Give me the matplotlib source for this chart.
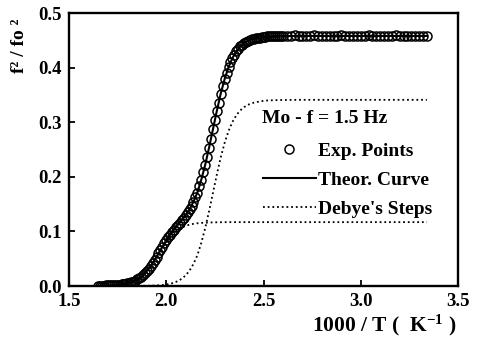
import matplotlib
matplotlib.use("Agg")
import matplotlib.pyplot as plt

plt.rcParams['font.family'] = ['Liberation Serif', 'DejaVu Serif']
plt.rcParams['font.weight'] = 'bold'
plt.rcParams['mathtext.fontset'] = 'custom'
plt.rcParams['mathtext.rm'] = 'Liberation Serif:bold'
plt.rcParams['mathtext.bf'] = 'Liberation Serif:bold'
plt.rcParams['mathtext.default'] = 'bf'

exp_x = [1.65, 1.66, 1.67, 1.68, 1.69, 1.70, 1.71, 1.72, 1.73, 1.74,
         1.75, 1.76, 1.77, 1.78, 1.79, 1.80, 1.81, 1.82, 1.83, 1.84,
         1.85, 1.86, 1.87, 1.88, 1.89, 1.90, 1.91, 1.92, 1.93, 1.94,
         1.95, 1.96, 1.97, 1.98, 1.99, 2.00, 2.01, 2.02, 2.03, 2.04,
         2.05, 2.06, 2.07, 2.08, 2.09, 2.10, 2.11, 2.12, 2.13, 2.14,
         2.15, 2.16, 2.17, 2.18, 2.19, 2.20, 2.21, 2.22, 2.23, 2.24,
         2.25, 2.26, 2.27, 2.28, 2.29, 2.30, 2.31, 2.32, 2.33, 2.34,
         2.35, 2.36, 2.37, 2.38, 2.39, 2.40, 2.41, 2.42, 2.43, 2.44,
         2.45, 2.46, 2.47, 2.48, 2.49, 2.50, 2.51, 2.52, 2.53, 2.54,
         2.55, 2.56, 2.57, 2.58, 2.59, 2.60,
         2.62, 2.64, 2.66, 2.68, 2.70, 2.72, 2.74, 2.76, 2.78, 2.80,
         2.82, 2.84, 2.86, 2.88, 2.90, 2.92, 2.94, 2.96, 2.98, 3.00,
         3.02, 3.04, 3.06, 3.08, 3.10, 3.12, 3.14, 3.16, 3.18, 3.20,
         3.22, 3.24, 3.26, 3.28, 3.30, 3.32, 3.34]
exp_y = [0.000, 0.000, 0.000, 0.000, 0.001, 0.001, 0.001, 0.001, 0.001, 0.001,
         0.002, 0.002, 0.003, 0.003, 0.004, 0.005, 0.006, 0.007, 0.008, 0.010,
         0.012, 0.014, 0.017, 0.020, 0.023, 0.028, 0.032, 0.037, 0.042, 0.048,
         0.054, 0.060, 0.066, 0.072, 0.078, 0.084, 0.089, 0.094, 0.099, 0.103,
         0.108, 0.112, 0.116, 0.121, 0.125, 0.130, 0.135, 0.141, 0.147, 0.154,
         0.163, 0.171, 0.183, 0.195, 0.208, 0.222, 0.237, 0.253, 0.270, 0.287,
         0.304, 0.321, 0.336, 0.352, 0.366, 0.379, 0.390, 0.401, 0.410, 0.417,
         0.424, 0.430, 0.434, 0.439, 0.442, 0.445, 0.447, 0.449, 0.451, 0.452,
         0.453, 0.454, 0.454, 0.455, 0.456, 0.456, 0.456, 0.457, 0.457, 0.457,
         0.457, 0.457, 0.457, 0.457, 0.457, 0.457,
         0.458, 0.458, 0.459, 0.458, 0.458, 0.457, 0.458, 0.459, 0.458, 0.458,
         0.458, 0.457, 0.458, 0.458, 0.459, 0.458, 0.458, 0.457, 0.458, 0.458,
         0.458, 0.459, 0.458, 0.458, 0.457, 0.458, 0.458, 0.458, 0.459, 0.458,
         0.458, 0.458, 0.457, 0.458, 0.458, 0.458, 0.458]

# theoretical curve and the two Debye steps
curve_x = [1.64, 1.66, 1.68, 1.70, 1.72, 1.74, 1.76, 1.78, 1.80, 1.82,
           1.84, 1.86, 1.88, 1.90, 1.92, 1.94, 1.96, 1.98, 2.00, 2.02,
           2.04, 2.06, 2.08, 2.10, 2.12, 2.14, 2.16, 2.18, 2.20, 2.22,
           2.24, 2.26, 2.28, 2.30, 2.32, 2.34, 2.36, 2.38, 2.40, 2.42,
           2.44, 2.46, 2.48, 2.50, 2.52, 2.54, 2.56, 2.58, 2.60,
           2.70, 2.80, 2.90, 3.00, 3.10, 3.20, 3.34]
theor_y = [0.0002, 0.0003, 0.0004, 0.0006, 0.0010, 0.0014, 0.0021, 0.0032, 0.0047, 0.0068,
           0.0099, 0.0141, 0.0200, 0.0275, 0.0368, 0.0478, 0.0598, 0.0720, 0.0835, 0.0940,
           0.1034, 0.1122, 0.1207, 0.1299, 0.1408, 0.1544, 0.1713, 0.1946, 0.2218, 0.2533,
           0.2870, 0.3209, 0.3523, 0.3790, 0.4007, 0.4174, 0.4297, 0.4385, 0.4446, 0.4489,
           0.4519, 0.4537, 0.4549, 0.4562, 0.4568, 0.4571, 0.4574, 0.4576, 0.4577,
           0.458, 0.458, 0.458, 0.458, 0.458, 0.458, 0.458]
step1_y = [0.0002, 0.0003, 0.0004, 0.0006, 0.0010, 0.0014, 0.0021, 0.0031, 0.0046, 0.0067,
           0.0098, 0.0139, 0.0197, 0.0271, 0.0362, 0.0470, 0.0585, 0.0701, 0.0807, 0.0899,
           0.0973, 0.1031, 0.1073, 0.1103, 0.1124, 0.1139, 0.1149, 0.1156, 0.1160, 0.1163,
           0.1165, 0.1167, 0.1168, 0.1169, 0.117, 0.117, 0.117, 0.117, 0.117, 0.117,
           0.117, 0.117, 0.117, 0.117, 0.117, 0.117, 0.117, 0.117, 0.117,
           0.117, 0.117, 0.117, 0.117, 0.117, 0.117, 0.117]
step2_y = [0.0, 0.0, 0.0, 0.0, 0.0, 0.0, 0.0, 0.0, 0.0, 0.0,
           0.0001, 0.0002, 0.0003, 0.0004, 0.0006, 0.0008, 0.0013, 0.0019, 0.0028, 0.0041,
           0.0061, 0.0091, 0.0134, 0.0196, 0.0284, 0.0405, 0.0564, 0.0790, 0.1058, 0.1370,
           0.1705, 0.2042, 0.2355, 0.2621, 0.2837, 0.3004, 0.3127, 0.3215, 0.3276, 0.3319,
           0.3349, 0.3367, 0.3379, 0.3392, 0.3398, 0.3401, 0.3404, 0.3406, 0.3407,
           0.341, 0.341, 0.341, 0.341, 0.341, 0.341, 0.341]

fig = plt.figure(figsize=(4.81, 3.39), dpi=100)
ax = fig.add_axes([0.1435, 0.1563, 0.8087, 0.8053])

dots = (0, (1, 1.6))
ax.plot(curve_x, theor_y, color='black', lw=1.5, label='Theor. Curve', zorder=2)
ax.plot(exp_x, exp_y, 'o', ms=6.5, mfc='none', mec='black', mew=1.1,
        label='Exp. Points', zorder=3)
ax.plot(curve_x, step1_y, color='black', lw=1.3, ls=dots, label="Debye's Steps", zorder=1)
ax.plot(curve_x, step2_y, color='black', lw=1.3, ls=dots, zorder=1)

ax.set_xlim(1.5, 3.5)
ax.set_ylim(0.0, 0.5)
ax.set_xticks([1.5, 2.0, 2.5, 3.0, 3.5])
ax.set_yticks([0.0, 0.1, 0.2, 0.3, 0.4, 0.5])
ax.set_xticklabels(['1.5', '2.0', '2.5', '3.0', '3.5'])
ax.set_yticklabels(['0.0', '0.1', '0.2', '0.3', '0.4', '0.5'])
ax.tick_params(direction='in', length=4, width=1.3, labelsize=13.5, pad=5)
for s in ax.spines.values():
    s.set_linewidth(1.7)

fig.text(0.950, 0.040, '1000 / T (  K$^{-1}$ )', fontsize=15.5, ha='right', va='center')
fig.text(0.040, 0.864, 'f\u00b2 / fo \u00b2', fontsize=14, rotation=90,
         ha='center', va='center')

# legend: sample title as a separate text, then the three entries
ax.text(0.496, 0.615, 'Mo - f = 1.5 Hz', transform=ax.transAxes,
        fontsize=14, ha='left', va='center')
h, l = ax.get_legend_handles_labels()
order = [1, 0, 2]
ax.legend([h[i] for i in order], [l[i] for i in order], frameon=False,
          fontsize=14, handlelength=2.7, handletextpad=0.12, labelspacing=0.6,
          loc='upper left', bbox_to_anchor=(0.454, 0.592))

fig.savefig('out.png', dpi=100)
